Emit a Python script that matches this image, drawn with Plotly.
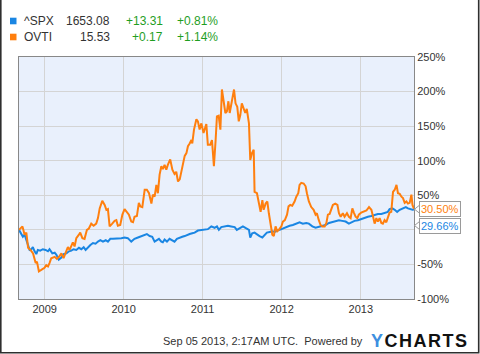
import plotly.graph_objects as go

# ---------------- data ----------------
spx_dates = ["2008-09-04","2008-09-15","2008-09-22","2008-09-30","2008-10-08","2008-10-16","2008-10-23","2008-10-31",
"2008-11-07","2008-11-15","2008-11-23","2008-11-30","2008-12-11","2008-12-23","2009-01-05","2009-01-16","2009-01-23",
"2009-02-05","2009-02-16","2009-02-24","2009-03-07","2009-03-19","2009-03-29","2009-04-11","2009-04-23","2009-05-04",
"2009-05-14","2009-05-27","2009-06-08","2009-06-19","2009-06-30","2009-07-09","2009-07-20","2009-07-31","2009-08-12",
"2009-08-24","2009-09-04","2009-09-15","2009-09-27","2009-10-10","2009-10-20","2009-10-31","2009-11-12","2009-11-25",
"2009-12-05","2009-12-21","2010-01-05","2010-01-20","2010-02-05","2010-02-20","2010-03-08","2010-03-23","2010-04-08",
"2010-04-18","2010-05-01","2010-05-13","2010-05-24","2010-06-03","2010-06-13","2010-06-24","2010-07-01","2010-07-09",
"2010-07-20","2010-08-01","2010-08-14","2010-08-24","2010-09-04","2010-09-17","2010-09-29","2010-10-10","2010-10-21",
"2010-11-02","2010-11-14","2010-11-25","2010-12-10","2010-12-26","2011-01-10","2011-01-25","2011-02-10","2011-02-25",
"2011-03-08","2011-03-17","2011-03-28","2011-04-13","2011-04-28","2011-05-13","2011-05-29","2011-06-08","2011-06-21",
"2011-07-06","2011-07-22","2011-08-03","2011-08-09","2011-08-18","2011-08-29","2011-09-09","2011-09-21","2011-10-04",
"2011-10-14","2011-10-25","2011-11-07","2011-11-19","2011-11-30","2011-12-10","2011-12-23","2012-01-07","2012-01-23",
"2012-02-07","2012-02-22","2012-03-09","2012-03-24","2012-04-08","2012-04-24","2012-05-06","2012-05-22","2012-06-06",
"2012-06-21","2012-07-07","2012-07-22","2012-08-07","2012-08-22","2012-09-07","2012-09-22","2012-10-07","2012-10-23",
"2012-11-07","2012-11-18","2012-12-03","2012-12-19","2013-01-03","2013-01-18","2013-02-03","2013-02-19","2013-03-06",
"2013-03-21","2013-04-06","2013-04-21","2013-05-06","2013-05-14","2013-05-27","2013-06-07","2013-06-18","2013-06-30",
"2013-07-15","2013-07-28","2013-08-07","2013-08-18","2013-08-28","2013-09-04"]
spx_values = [0,-5,-10,-7,-14,-24,-29,-28,
-25,-31,-35,-29,-30,-28,-29,-31,-28,
-34,-33,-36,-43,-40,-35,-34,-31,-30,
-28,-29,-26,-28,-25,-29,-25,-22,-19,
-20,-17,-15,-17,-15,-17,-13,-13,-13,
-12,-12,-11,-12,-17,-13,-11,-9,-7,
-6,-9,-10,-17,-15,-13,-17,-18,-14,
-17,-13,-15,-17,-13,-12,-10,-9,-7,
-6,-5,-4,-1,0,1,1,5,3,
5,0,4,5,6,5,4,0,2,
5,2,0,-11,-5,-4,-7,-9,-11,
-7,-4,-3,-2,-3,-1,0,2,5,
6,7,9,11,9,10,9,5,3,
4,6,7,10,11,13,14,13,12,
9,11,13,14,16,17,19,20,22,
23,23,25,26,30,31,29,26,29,
31,33,31,30,29,29.66]

ovti_dates = ["2008-09-04","2008-09-20","2008-09-30","2008-10-08","2008-10-16","2008-10-27","2008-11-08","2008-11-20",
"2008-11-26","2008-12-05","2008-12-16","2008-12-31","2009-01-08","2009-01-16","2009-01-23","2009-01-31","2009-02-16",
"2009-02-26","2009-03-08","2009-03-19","2009-03-29","2009-04-07","2009-04-18","2009-04-26","2009-05-04","2009-05-11",
"2009-05-19","2009-05-27","2009-06-08","2009-06-14","2009-06-24","2009-07-04","2009-07-15","2009-07-24","2009-08-04",
"2009-08-15","2009-08-27","2009-09-04","2009-09-12","2009-09-24","2009-10-05","2009-10-13","2009-10-20","2009-10-28",
"2009-11-09","2009-11-20","2009-11-28","2009-12-05","2009-12-16","2009-12-26","2010-01-05","2010-01-16","2010-01-25",
"2010-02-05","2010-02-13","2010-02-20","2010-03-03","2010-03-12","2010-03-19","2010-03-28","2010-04-08","2010-04-18",
"2010-04-28","2010-05-09","2010-05-16","2010-05-24","2010-06-01","2010-06-08","2010-06-16","2010-06-24","2010-07-01",
"2010-07-09","2010-07-17","2010-07-24","2010-08-04","2010-08-14","2010-08-24","2010-09-01","2010-09-09","2010-09-17",
"2010-09-24","2010-10-02","2010-10-10","2010-10-18","2010-10-25","2010-11-02","2010-11-10","2010-11-14","2010-11-22",
"2010-12-03","2010-12-10","2010-12-18","2010-12-26","2011-01-05","2011-01-18","2011-01-25","2011-02-05","2011-02-13",
"2011-02-22","2011-03-02","2011-03-08","2011-03-16","2011-03-24","2011-03-31","2011-04-08","2011-04-16","2011-04-23",
"2011-04-30","2011-05-06","2011-05-16","2011-05-26","2011-06-02","2011-06-10","2011-06-17","2011-06-24","2011-07-01",
"2011-07-09","2011-07-17","2011-07-24","2011-08-03","2011-08-09","2011-08-17","2011-08-25","2011-08-29","2011-09-09",
"2011-09-18","2011-09-26","2011-10-04","2011-10-10","2011-10-19","2011-10-27","2011-11-03","2011-11-11","2011-11-19",
"2011-11-26","2011-12-04","2011-12-12","2011-12-19","2011-12-31","2012-01-07","2012-01-16","2012-01-26","2012-02-02",
"2012-02-10","2012-02-19","2012-03-01","2012-03-09","2012-03-18","2012-03-24","2012-04-01","2012-04-12","2012-04-21",
"2012-04-27","2012-05-06","2012-05-17","2012-05-28","2012-06-06","2012-06-12","2012-06-21","2012-06-29","2012-07-07",
"2012-07-18","2012-07-26","2012-08-02","2012-08-10","2012-08-18","2012-08-25","2012-09-05","2012-09-15","2012-09-22",
"2012-09-30","2012-10-10","2012-10-18","2012-10-29","2012-11-07","2012-11-15","2012-11-23","2012-11-30","2012-12-08",
"2012-12-16","2012-12-23","2013-01-03","2013-01-14","2013-01-27","2013-02-08","2013-02-19","2013-02-26","2013-03-06",
"2013-03-14","2013-03-21","2013-03-29","2013-04-06","2013-04-13","2013-04-21","2013-04-29","2013-05-06","2013-05-14",
"2013-05-22","2013-05-30","2013-06-07","2013-06-15","2013-06-22","2013-06-30","2013-07-08","2013-07-15","2013-07-23",
"2013-07-31","2013-08-07","2013-08-15","2013-08-23","2013-08-28","2013-09-04"]
ovti_values = [0,5,-7,-4,-26,-29,-34,-48,
-46,-60,-58,-55,-51,-53,-48,-41,-39,
-42,-39,-34,-41,-34,-25,-29,-22,-18,
-24,-12,-7,-4,-12,-13,0,2,9,
6,9,17,31,42,36,29,30,5,
9,13,14,6,7,22,30,25,22,
12,11,19,20,39,34,33,58,58,
53,38,51,48,65,53,80,92,88,
94,87,94,102,87,81,84,70,73,
84,95,107,111,121,125,130,125,145,
160,157,145,154,140,153,123,123,130,
92,130,164,165,145,203,188,169,171,
186,169,188,203,183,178,157,166,183,
174,169,175,154,101,111,116,55,53,
39,26,43,29,38,41,24,10,-7,
-9,5,-2,0,5,12,14,22,34,
36,35,41,48,53,65,68,67,63,
53,41,33,29,22,24,14,7,5,
5,10,22,23,29,36,38,36,24,
19,24,19,24,19,17,31,25,19,
17,22,25,26,28,33,29,20,9,
17,12,17,10,9,14,11,19,25,
26,55,58,65,53,52,48,46,39,
41,38,39,51,36,30.5]

names = ["^SPX", "OVTI"]
prices = ["1653.08", "15.53"]
changes = ["+13.31", "+0.17"]
pct_changes = ["+0.81%", "+1.14%"]
year_ticks = ["2009-01-01", "2010-01-01", "2011-01-01", "2012-01-01", "2013-01-01"]
year_labels = ["2009", "2010", "2011", "2012", "2013"]
y_ticks = [-100, -50, 0, 50, 100, 150, 200, 250]
# the 0% label sits under the end-value boxes in the original, so it is left blank
y_labels = ["-100%", "-50%", "", "50%", "100%", "150%", "200%", "250%"]
footer = "Sep 05 2013, 2:17AM UTC.  Powered by"

# ---------------- style ----------------
BLUE = "#1a86e3"
ORANGE = "#ff7f0e"
GREEN = "#1f9e1f"
TXT = "#333333"
FONT = "Liberation Sans, Arial, sans-serif"
W, H = 480, 354
L, R, T, B = 19, 414, 57, 299   # plot area in pixels

def px(x):
    return (x - L) / (R - L)

def py(y):
    return (B - y) / (B - T)

fig = go.Figure()
fig.add_trace(go.Scatter(x=spx_dates, y=spx_values, mode="lines",
                         line=dict(color=BLUE, width=2), hoverinfo="skip"))
fig.add_trace(go.Scatter(x=ovti_dates, y=ovti_values, mode="lines",
                         line=dict(color=ORANGE, width=2), hoverinfo="skip"))

fig.update_layout(
    width=W, height=H,
    margin=dict(l=L, r=W - R, t=T, b=H - B),
    paper_bgcolor="white", plot_bgcolor="#e9f0fc",
    showlegend=False,
    font=dict(family=FONT, size=11, color=TXT),
)
fig.update_xaxes(type="date", range=["2008-09-04", "2013-09-04"],
                 tickvals=year_ticks, ticktext=year_labels,
                 showgrid=True, gridcolor="#d4d4d4", gridwidth=1,
                 showline=True, linecolor="#888888", linewidth=1, mirror=True,
                 ticks="", zeroline=False, tickfont=dict(size=11, color=TXT))
fig.update_yaxes(range=[-100, 250], tickvals=y_ticks, ticktext=y_labels,
                 side="right", showgrid=True, gridcolor="#d4d4d4", gridwidth=1,
                 showline=True, linecolor="#888888", linewidth=1, mirror=True,
                 ticks="", zeroline=False, tickfont=dict(size=11, color=TXT))

ann = []
shapes = []
colors = [BLUE, ORANGE]
row_y = [21, 37]
for i in range(2):
    yy = py(row_y[i])
    shapes.append(dict(type="rect", xref="paper", yref="paper",
                       x0=px(10), x1=px(16.5), y0=py(row_y[i] + 3.3), y1=py(row_y[i] - 3.3),
                       fillcolor=colors[i], line=dict(width=0)))
    ann.append(dict(x=px(22), y=yy, xref="paper", yref="paper", text=names[i],
                    xanchor="left", yanchor="middle", showarrow=False,
                    font=dict(size=12, color=TXT)))
    ann.append(dict(x=px(111.5), y=yy, xref="paper", yref="paper", text=prices[i],
                    xanchor="right", yanchor="middle", showarrow=False,
                    font=dict(size=12, color=TXT)))
    ann.append(dict(x=px(165), y=yy, xref="paper", yref="paper", text=changes[i],
                    xanchor="right", yanchor="middle", showarrow=False,
                    font=dict(size=12, color=GREEN)))
    ann.append(dict(x=px(219.5), y=yy, xref="paper", yref="paper", text=pct_changes[i],
                    xanchor="right", yanchor="middle", showarrow=False,
                    font=dict(size=12, color=GREEN)))

# end value labels
last_vals = [spx_values[-1], ovti_values[-1]]
label_centers = [225.5, 209.2]   # pixel centres (blue pushed below orange)
for i in [1, 0]:
    cy = label_centers[i]
    ann.append(dict(x=px(419), y=py(cy), xref="paper", yref="paper",
                    text=f"{last_vals[i]:.2f}%", xanchor="left", yanchor="middle",
                    showarrow=False, font=dict(size=11, color=colors[i]),
                    bgcolor="white", bordercolor="#9a9a9a", borderwidth=1, borderpad=1))
    shapes.append(dict(type="path", xref="paper", yref="paper",
                       path=f"M {px(419.5)},{py(cy-4)} L {px(414.5)},{py(cy)} L {px(419.5)},{py(cy+4)}",
                       line=dict(color="#9a9a9a", width=1), fillcolor="white"))

# footer
ann.append(dict(x=px(365), y=py(341), xref="paper", yref="paper", text=footer,
                xanchor="right", yanchor="middle", showarrow=False,
                font=dict(size=11, color=TXT)))
ann.append(dict(x=px(369), y=py(341), xref="paper", yref="paper",
                text="<span style='letter-spacing:1.5px'><b><span style='color:#3d8fe0'>Y</span>CHARTS</b></span>",
                xanchor="left", yanchor="middle", showarrow=False,
                font=dict(size=18, color="#111111", family="Liberation Sans, Arial, sans-serif")))

# outer frame
shapes.append(dict(type="rect", xref="paper", yref="paper",
                   x0=px(0.8), x1=px(478.7), y0=py(352.8), y1=py(-10),
                   line=dict(color="#2e2e2e", width=1.6), fillcolor="rgba(0,0,0,0)"))

fig.update_layout(annotations=ann, shapes=shapes)
fig.write_html("out.html")
